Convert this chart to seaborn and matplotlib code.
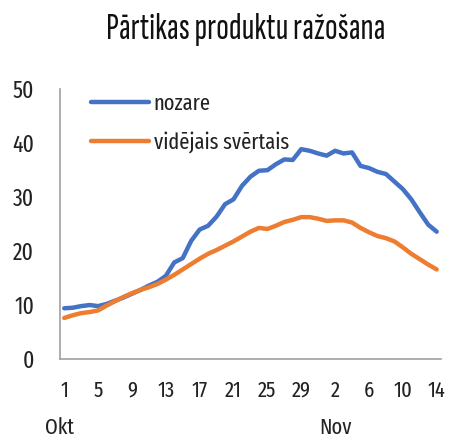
import pandas as pd
import matplotlib.pyplot as plt
import matplotlib.transforms as mtransforms
import seaborn as sns

# Daily index values, 1 Oct - 14 Nov
dates = pd.date_range("2020-10-01", "2020-11-14", freq="D")
nozare = [9.4, 9.5, 9.8, 10.0, 9.8, 10.2, 10.8, 11.4, 12.1, 12.8,
          13.6, 14.3, 15.4, 17.9, 18.7, 21.9, 24.0, 24.7, 26.4, 28.7,
          29.6, 32.1, 33.8, 34.9, 35.0, 36.1, 37.0, 36.9, 38.9, 38.6,
          38.1, 37.7, 38.6, 38.1, 38.3, 35.8, 35.4, 34.7, 34.3, 32.9,
          31.5, 29.6, 27.2, 24.9, 23.6]
videjais = [7.6, 8.1, 8.5, 8.7, 9.0, 9.9, 10.7, 11.5, 12.2, 12.8,
            13.3, 13.9, 14.7, 15.6, 16.6, 17.6, 18.6, 19.5, 20.2, 21.0,
            21.8, 22.7, 23.6, 24.3, 24.1, 24.7, 25.4, 25.8, 26.3, 26.3,
            26.0, 25.6, 25.7, 25.7, 25.3, 24.3, 23.5, 22.8, 22.4, 21.8,
            20.7, 19.5, 18.5, 17.5, 16.6]
series_names = ["nozare", "vidējais svērtais"]
month_labels = ["Okt", "Nov"]
colors = ["#4472C4", "#ED7D31"]

sns.set_style("white")
plt.rcParams["font.family"] = ["Fira Sans Extra Condensed", "DejaVu Sans"]
plt.rcParams["font.weight"] = "normal"

df = pd.DataFrame({"idx": range(len(dates)),
                   series_names[0]: nozare,
                   series_names[1]: videjais})
long = df.melt(id_vars="idx", var_name="series", value_name="value")

fig = plt.figure(figsize=(4.49, 4.41), dpi=100)
ax = fig.add_axes([0.1336, 0.186, 0.8484, 0.6115])

sns.lineplot(data=long, x="idx", y="value", hue="series",
             palette=colors, linewidth=3.2, ax=ax)

ax.set_xlim(-0.5, len(dates) - 0.5)
ax.set_ylim(0, 50)
ax.set_yticks(range(0, 51, 10))
ticks = list(range(0, len(dates), 4))
ax.set_xticks(ticks)
ax.set_xticklabels([str(dates[i].day) for i in ticks])
ax.set_xlabel("")
ax.set_ylabel("")

for s in ["top", "right"]:
    ax.spines[s].set_visible(False)
for s in ["left", "bottom"]:
    ax.spines[s].set_color("#A0A0A0")
    ax.spines[s].set_linewidth(1.2)

ax.tick_params(axis="y", length=6.5, width=1.2, color="#A0A0A0",
               direction="out", pad=12, labelsize=17, labelcolor="#222222")
ax.tick_params(axis="x", length=0, pad=15, labelsize=16, labelcolor="#222222")

# month labels under the day ticks
trans = mtransforms.blended_transform_factory(ax.transData, ax.transAxes)
ax.text(-0.5, -0.255, month_labels[0], transform=trans, ha="center", va="center",
        fontsize=16, color="#222222")
ax.text(32, -0.255, month_labels[1], transform=trans, ha="center", va="center",
        fontsize=16, color="#222222")

leg = ax.legend(loc="upper left", bbox_to_anchor=(0.03, 1.06), frameon=False,
                fontsize=16, handlelength=2.6, handletextpad=0.2,
                labelspacing=0.75)
for line in leg.get_lines():
    line.set_linewidth(3.2)
for t in leg.get_texts():
    t.set_color("#222222")

fig.text(0.548, 0.932, "Pārtikas produktu ražošana", ha="center", va="center",
         fontsize=27, fontweight="medium", color="#111111",
         family=["Sofia Sans Extra Condensed", "DejaVu Sans"])

fig.savefig("out.png", dpi=100)
